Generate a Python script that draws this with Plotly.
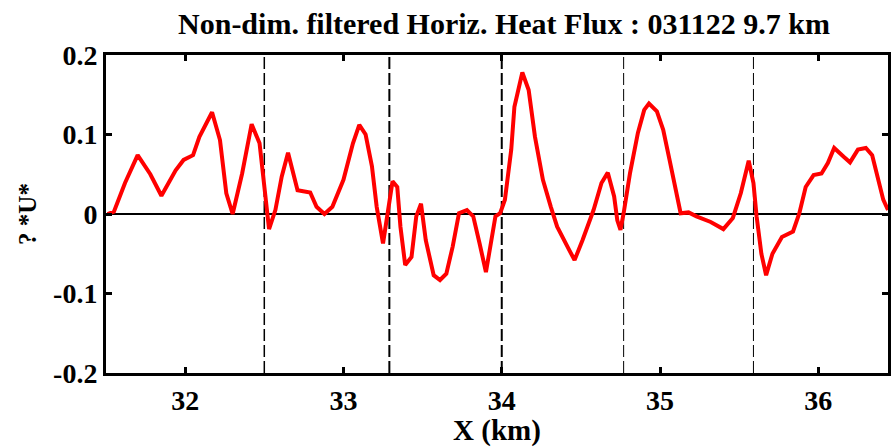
import plotly.graph_objects as go

x_km = [31.51, 31.55, 31.62, 31.70, 31.78, 31.85, 31.94, 31.99, 32.05, 32.09, 32.17, 32.22,
        32.26, 32.30, 32.36, 32.42, 32.47, 32.50, 32.53, 32.57, 32.61, 32.65, 32.68, 32.71,
        32.79, 32.83, 32.88, 32.93, 33.00, 33.06, 33.10, 33.14, 33.18, 33.21, 33.25, 33.28,
        33.31, 33.34, 33.36, 33.39, 33.43, 33.46, 33.49, 33.52, 33.57, 33.61, 33.65, 33.69,
        33.73, 33.78, 33.82, 33.86, 33.90, 33.92, 33.96, 33.99, 34.02, 34.06, 34.08, 34.13,
        34.17, 34.21, 34.26, 34.31, 34.35, 34.42, 34.46, 34.51, 34.58, 34.63, 34.67, 34.71,
        34.73, 34.75, 34.77, 34.81, 34.86, 34.90, 34.93, 34.98, 35.02, 35.06, 35.10, 35.13,
        35.18, 35.23, 35.32, 35.40, 35.46, 35.51, 35.56, 35.59, 35.61, 35.64, 35.67, 35.71,
        35.77, 35.84, 35.88, 35.92, 35.97, 36.02, 36.06, 36.10, 36.16, 36.20, 36.25, 36.30,
        36.34, 36.38, 36.41, 36.44]
flux = [0.000, 0.003, 0.039, 0.074, 0.050, 0.023, 0.055, 0.068, 0.074, 0.097, 0.128, 0.093,
        0.026, 0.000, 0.051, 0.113, 0.089, 0.034, -0.019, 0.005, 0.047, 0.077, 0.055, 0.030,
        0.027, 0.009, 0.000, 0.009, 0.043, 0.089, 0.112, 0.100, 0.060, 0.009, -0.037, 0.005,
        0.041, 0.034, -0.016, -0.064, -0.054, -0.003, 0.013, -0.033, -0.077, -0.083, -0.075, -0.041,
        0.001, 0.005, -0.003, -0.037, -0.073, -0.050, -0.003, 0.001, 0.018, 0.081, 0.135, 0.178,
        0.156, 0.097, 0.043, 0.009, -0.016, -0.043, -0.058, -0.033, 0.005, 0.039, 0.052, 0.022,
        -0.008, -0.020, 0.001, 0.051, 0.102, 0.131, 0.139, 0.129, 0.106, 0.068, 0.030, 0.001,
        0.002, -0.003, -0.010, -0.019, -0.005, 0.026, 0.067, 0.039, -0.003, -0.050, -0.077, -0.050,
        -0.029, -0.022, 0.001, 0.034, 0.049, 0.051, 0.064, 0.083, 0.072, 0.065, 0.081, 0.083,
        0.074, 0.039, 0.018, 0.005]

boundaries = [32.50, 33.29, 34.00, 34.77, 35.59]
boundary_widths = [1.5, 2, 2, 1, 1]
x_ticks = [32, 33, 34, 35, 36]
y_ticks = [-0.2, -0.1, 0, 0.1, 0.2]
y_tick_text = ["-0.2", "-0.1", "0", "0.1", "0.2"]

font = "Liberation Serif, Times New Roman, serif"

fig = go.Figure()
fig.add_trace(go.Scatter(x=x_km, y=flux, mode="lines",
                         line=dict(color="#ff0000", width=4), showlegend=False))

shapes = []
for b, w in zip(boundaries, boundary_widths):
    shapes.append(dict(type="line", xref="x", yref="paper", x0=b, x1=b, y0=0, y1=1,
                       line=dict(color="black", width=w, dash="12px,4px"), layer="below"))
shapes.append(dict(type="line", xref="paper", yref="y", x0=0, x1=1, y0=0, y1=0,
                   line=dict(color="black", width=2), layer="below"))

fig.update_layout(
    width=892, height=447,
    margin=dict(l=106, r=1, t=55, b=74),
    plot_bgcolor="white", paper_bgcolor="white",
    shapes=shapes,
    title=dict(text="<b>Non-dim. filtered Horiz. Heat Flux : 031122 9.7 km</b>",
               x=0.565, xanchor="center", y=0.948, yanchor="middle",
               font=dict(family=font, size=30, color="black")),
    font=dict(family=font, color="black"),
)
fig.update_xaxes(range=[31.5, 36.44], tickvals=x_ticks,
                 ticktext=[f"<b>{t}</b>" for t in x_ticks],
                 tickfont=dict(family=font, size=28, color="black"),
                 ticks="inside", ticklen=6, tickwidth=3, tickcolor="black",
                 showline=True, linewidth=3, linecolor="black", mirror="allticks",
                 showgrid=False, zeroline=False,
                 title=dict(text="<b>X (km)</b>", font=dict(family=font, size=29, color="black"),
                            standoff=2))
fig.update_yaxes(range=[-0.2, 0.2], tickvals=y_ticks,
                 ticktext=[f"<b>{t}</b>" for t in y_tick_text],
                 tickfont=dict(family=font, size=28, color="black"),
                 ticks="inside", ticklen=6, tickwidth=3, tickcolor="black",
                 showline=True, linewidth=3, linecolor="black", mirror="allticks",
                 showgrid=False, zeroline=False,
                 title=dict(text="<b>? *U*</b>", font=dict(family=font, size=25, color="black"),
                            standoff=10))

fig.write_html("out.html")
